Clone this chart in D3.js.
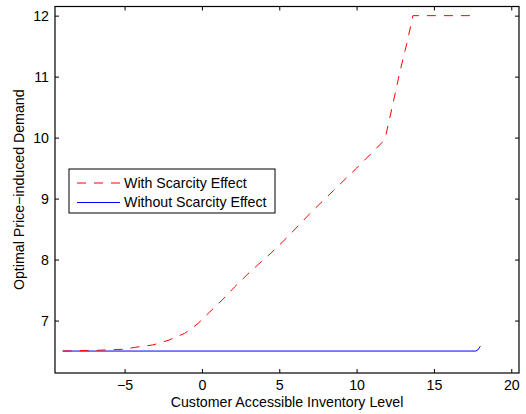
<!DOCTYPE html>
<html>
<head>
<meta charset="utf-8">
<script src="https://cdn.jsdelivr.net/npm/d3@7"></script>
<style>
  body { margin: 0; background: #fff; }
  svg { display: block; font-family: "Liberation Sans", Arial, sans-serif; }
</style>
</head>
<body>
<svg id="chart"></svg>
<script>
// inventory level (x) and demand (y)
const scarcityX = [-9, -7, -5, -4.35, -3.17, -2.13, -1.12, -0.26, 0.5, 1.32, 2.11, 2.87, 3.68, 4.48, 5.5, 7.04, 8.5, 10, 11.65, 11.9, 12.3, 12.8, 13.3, 13.64, 17.6];
const scarcityY = [6.5, 6.51, 6.53, 6.56, 6.6, 6.68, 6.79, 6.95, 7.14, 7.34, 7.55, 7.74, 7.93, 8.11, 8.36, 8.77, 9.13, 9.5, 9.92, 10.05, 10.5, 11.08, 11.6, 12.0, 12.0];
const noScarcityX = [-9, 17.7, 17.85, 18.0];
const noScarcityY = [6.5, 6.5, 6.52, 6.58];

const xTicks = [-5, 0, 5, 10, 15, 20];
const yTicks = [7, 8, 9, 10, 11, 12];
const seriesNames = ['With Scarcity Effect', 'Without Scarcity Effect'];

const width = 526;
const height = 414;
const margin = { top: 6.5, right: 7, bottom: 41, left: 55 };

const svg = d3.select('#chart')
  .attr('width', width)
  .attr('height', height)
  .style('background', '#fff');

const x = d3.scaleLinear()
  .domain([-9.5, 20.5])
  .range([margin.left, width - margin.right]);

const y = d3.scaleLinear()
  .domain([6.14, 12.15])
  .range([height - margin.bottom, margin.top]);

const fontSize = '14.2px';

// bottom axis with labels, inner ticks
svg.append('g')
  .attr('transform', `translate(0,${height - margin.bottom})`)
  .call(d3.axisBottom(x).tickValues(xTicks).tickSize(-4).tickPadding(7))
  .call(g => g.select('.domain').remove())
  .attr('font-size', fontSize)
  .attr('font-family', null);

// top axis, ticks only
svg.append('g')
  .attr('transform', `translate(0,${margin.top})`)
  .call(d3.axisTop(x).tickValues(xTicks).tickSize(-4).tickFormat(''))
  .call(g => g.select('.domain').remove());

// left axis with labels
svg.append('g')
  .attr('transform', `translate(${margin.left},0)`)
  .call(d3.axisLeft(y).tickValues(yTicks).tickSize(-4).tickPadding(6).tickFormat(d3.format('d')))
  .call(g => g.select('.domain').remove())
  .attr('font-size', fontSize)
  .attr('font-family', null);

// right axis, ticks only
svg.append('g')
  .attr('transform', `translate(${width - margin.right},0)`)
  .call(d3.axisRight(y).tickValues(yTicks).tickSize(-4).tickFormat(''))
  .call(g => g.select('.domain').remove());

svg.selectAll('.tick text').attr('fill', '#000');

// box round the plot
svg.append('rect')
  .attr('x', margin.left)
  .attr('y', margin.top)
  .attr('width', width - margin.right - margin.left)
  .attr('height', height - margin.bottom - margin.top)
  .attr('fill', 'none')
  .attr('stroke', '#000')
  .attr('stroke-width', 1.2);

const line = d3.line()
  .x(d => x(d[0]))
  .y(d => y(d[1]));

svg.append('path')
  .datum(d3.zip(noScarcityX, noScarcityY))
  .attr('d', line)
  .attr('fill', 'none')
  .attr('stroke', '#0000ff')
  .attr('stroke-width', 1);

svg.append('path')
  .datum(d3.zip(scarcityX, scarcityY))
  .attr('d', line)
  .attr('fill', 'none')
  .attr('stroke', '#ff0000')
  .attr('stroke-width', 1)
  .attr('stroke-dasharray', '9,8');

// axis titles
svg.append('text')
  .attr('x', (margin.left + width - margin.right) / 2)
  .attr('y', 407)
  .attr('text-anchor', 'middle')
  .attr('font-size', fontSize)
  .text('Customer Accessible Inventory Level');

svg.append('text')
  .attr('transform', `translate(24,${(margin.top + height - margin.bottom) / 2}) rotate(-90)`)
  .attr('text-anchor', 'middle')
  .attr('font-size', fontSize)
  .text('Optimal Price\u2212induced Demand');

// legend
const legend = svg.append('g').attr('transform', 'translate(69,169)');
legend.append('rect')
  .attr('width', 206)
  .attr('height', 44)
  .attr('fill', '#fff')
  .attr('stroke', '#000')
  .attr('stroke-width', 1);

const styles = [
  { color: '#ff0000', dash: '9,8' },
  { color: '#0000ff', dash: null }
];

seriesNames.forEach((name, i) => {
  const ry = 14 + i * 19.5;
  legend.append('line')
    .attr('x1', 8)
    .attr('x2', 51)
    .attr('y1', ry)
    .attr('y2', ry)
    .attr('stroke', styles[i].color)
    .attr('stroke-dasharray', styles[i].dash);
  legend.append('text')
    .attr('x', 55)
    .attr('y', ry)
    .attr('dy', '0.35em')
    .attr('font-size', fontSize)
    .text(name);
});
</script>
</body>
</html>
